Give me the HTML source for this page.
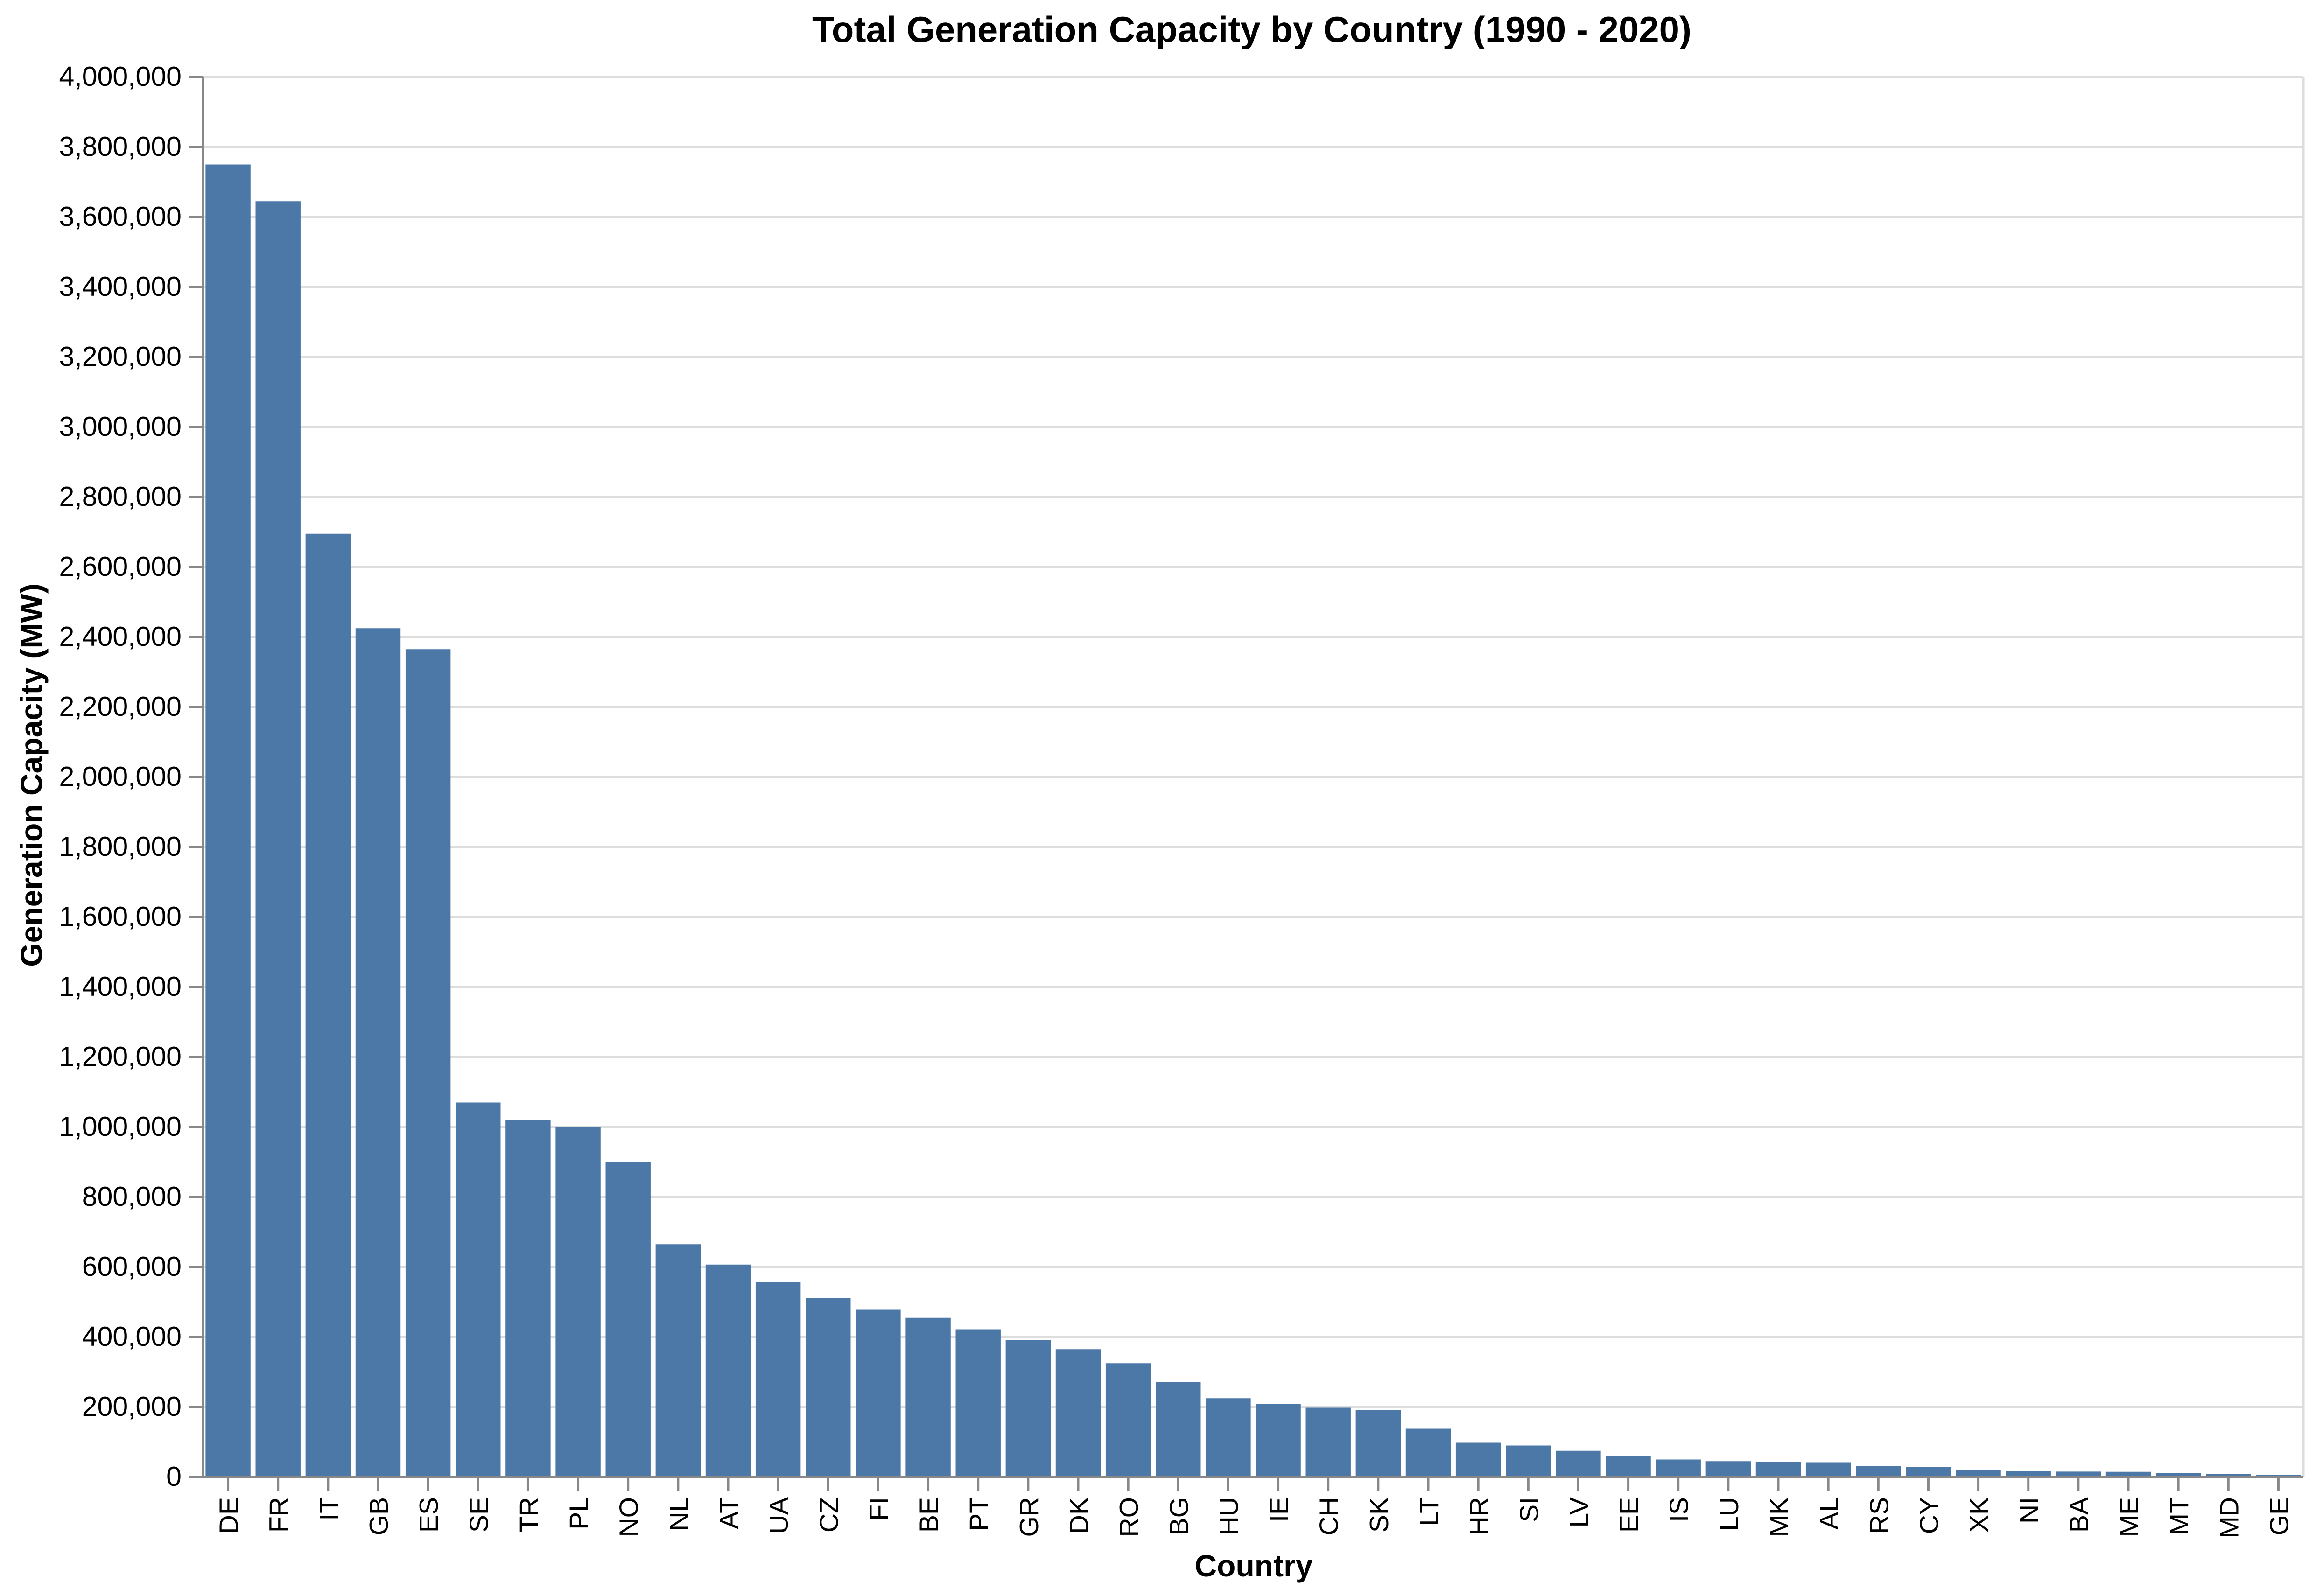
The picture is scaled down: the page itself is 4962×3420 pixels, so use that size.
<!DOCTYPE html>
<html><head><meta charset="utf-8"><style>body{margin:0;background:#fff}svg{display:block;font-family:"Liberation Sans",Arial,sans-serif}</style></head>
<body>
<svg id="chart" width="4962" height="3420" xmlns="http://www.w3.org/2000/svg">
<rect width="4962" height="3420" fill="#fff"/>
<g id="grid"></g><g id="bars"></g><g id="axes"></g>
<text x="2682" y="90" text-anchor="middle" font-size="78" font-weight="bold">Total Generation Capacity by Country (1990 - 2020)</text>
<text x="2686" y="3378" text-anchor="middle" font-size="66" font-weight="bold">Country</text>
<text transform="translate(90,1661) rotate(-90)" text-anchor="middle" font-size="66" font-weight="bold">Generation Capacity (MW)</text>
</svg>
<script>
const categories=["DE","FR","IT","GB","ES","SE","TR","PL","NO","NL","AT","UA","CZ","FI","BE","PT","GR","DK","RO","BG","HU","IE","CH","SK","LT","HR","SI","LV","EE","IS","LU","MK","AL","RS","CY","XK","NI","BA","ME","MT","MD","GE"];
const values=[3750000,3645000,2695000,2425000,2365000,1070000,1020000,1000000,900000,665000,607000,557000,512000,478000,455000,422000,392000,365000,325000,272000,225000,208000,198000,192000,138000,98000,90000,75000,60000,50000,45000,44000,42000,32000,28000,19000,17000,15500,15000,11000,8000,6500];
const yTicks=[0,200000,400000,600000,800000,1000000,1200000,1400000,1600000,1800000,2000000,2200000,2400000,2600000,2800000,3000000,3200000,3400000,3600000,3800000,4000000];
const X0=435,X1=4935,Y0=3165,Y1=165,YMAX=4000000;
const NS="http://www.w3.org/2000/svg";
const bw=(X1-X0)/categories.length;
function y(v){return Y0-(v/YMAX)*(Y0-Y1);}
function x(i){return X0+i*bw;}
function mk(t,a,p){const e=document.createElementNS(NS,t);for(const k in a)e.setAttribute(k,a[k]);p.appendChild(e);return e;}
const grid=document.getElementById('grid'),bars=document.getElementById('bars'),axes=document.getElementById('axes');
yTicks.forEach(v=>{
  const g=mk('line',{x1:X0,x2:X1,y1:y(v),y2:y(v),stroke:'#ddd','stroke-width':5},grid);
  
  
  const t=mk('line',{x1:X0-30,x2:X0,y1:y(v),y2:y(v),stroke:'#888','stroke-width':5},axes);
  
  
  const l=mk('text',{x:X0-46,y:y(v)+19,'text-anchor':'end','font-size':59},axes);
  l.textContent=v.toLocaleString('en-US');
  
  
});
mk('line',{x1:X1,x2:X1,y1:Y1,y2:Y0,stroke:'#ddd','stroke-width':5},grid);
categories.forEach((c,i)=>{
  const pad=bw*0.05;
  const b=mk('rect',{x:x(i)+pad,y:y(values[i]),width:bw-2*pad,height:Y0-y(values[i]),fill:'#4c78a8'},bars);
  
  
  const cx=x(i)+bw/2;
  const t=mk('line',{x1:cx,x2:cx,y1:Y0,y2:Y0+30,stroke:'#888','stroke-width':5},axes);
  
  
  const l=mk('text',{transform:`translate(${cx+21},${Y0+43}) rotate(-90)`,'text-anchor':'end','font-size':57},axes);
  l.textContent=c;
  
  
});
const ya=mk('line',{x1:X0,x2:X0,y1:Y1,y2:Y0,stroke:'#888','stroke-width':5},axes);


const xa=mk('line',{x1:X0,x2:X1,y1:Y0,y2:Y0,stroke:'#888','stroke-width':5},axes);


</script>
</body></html>
